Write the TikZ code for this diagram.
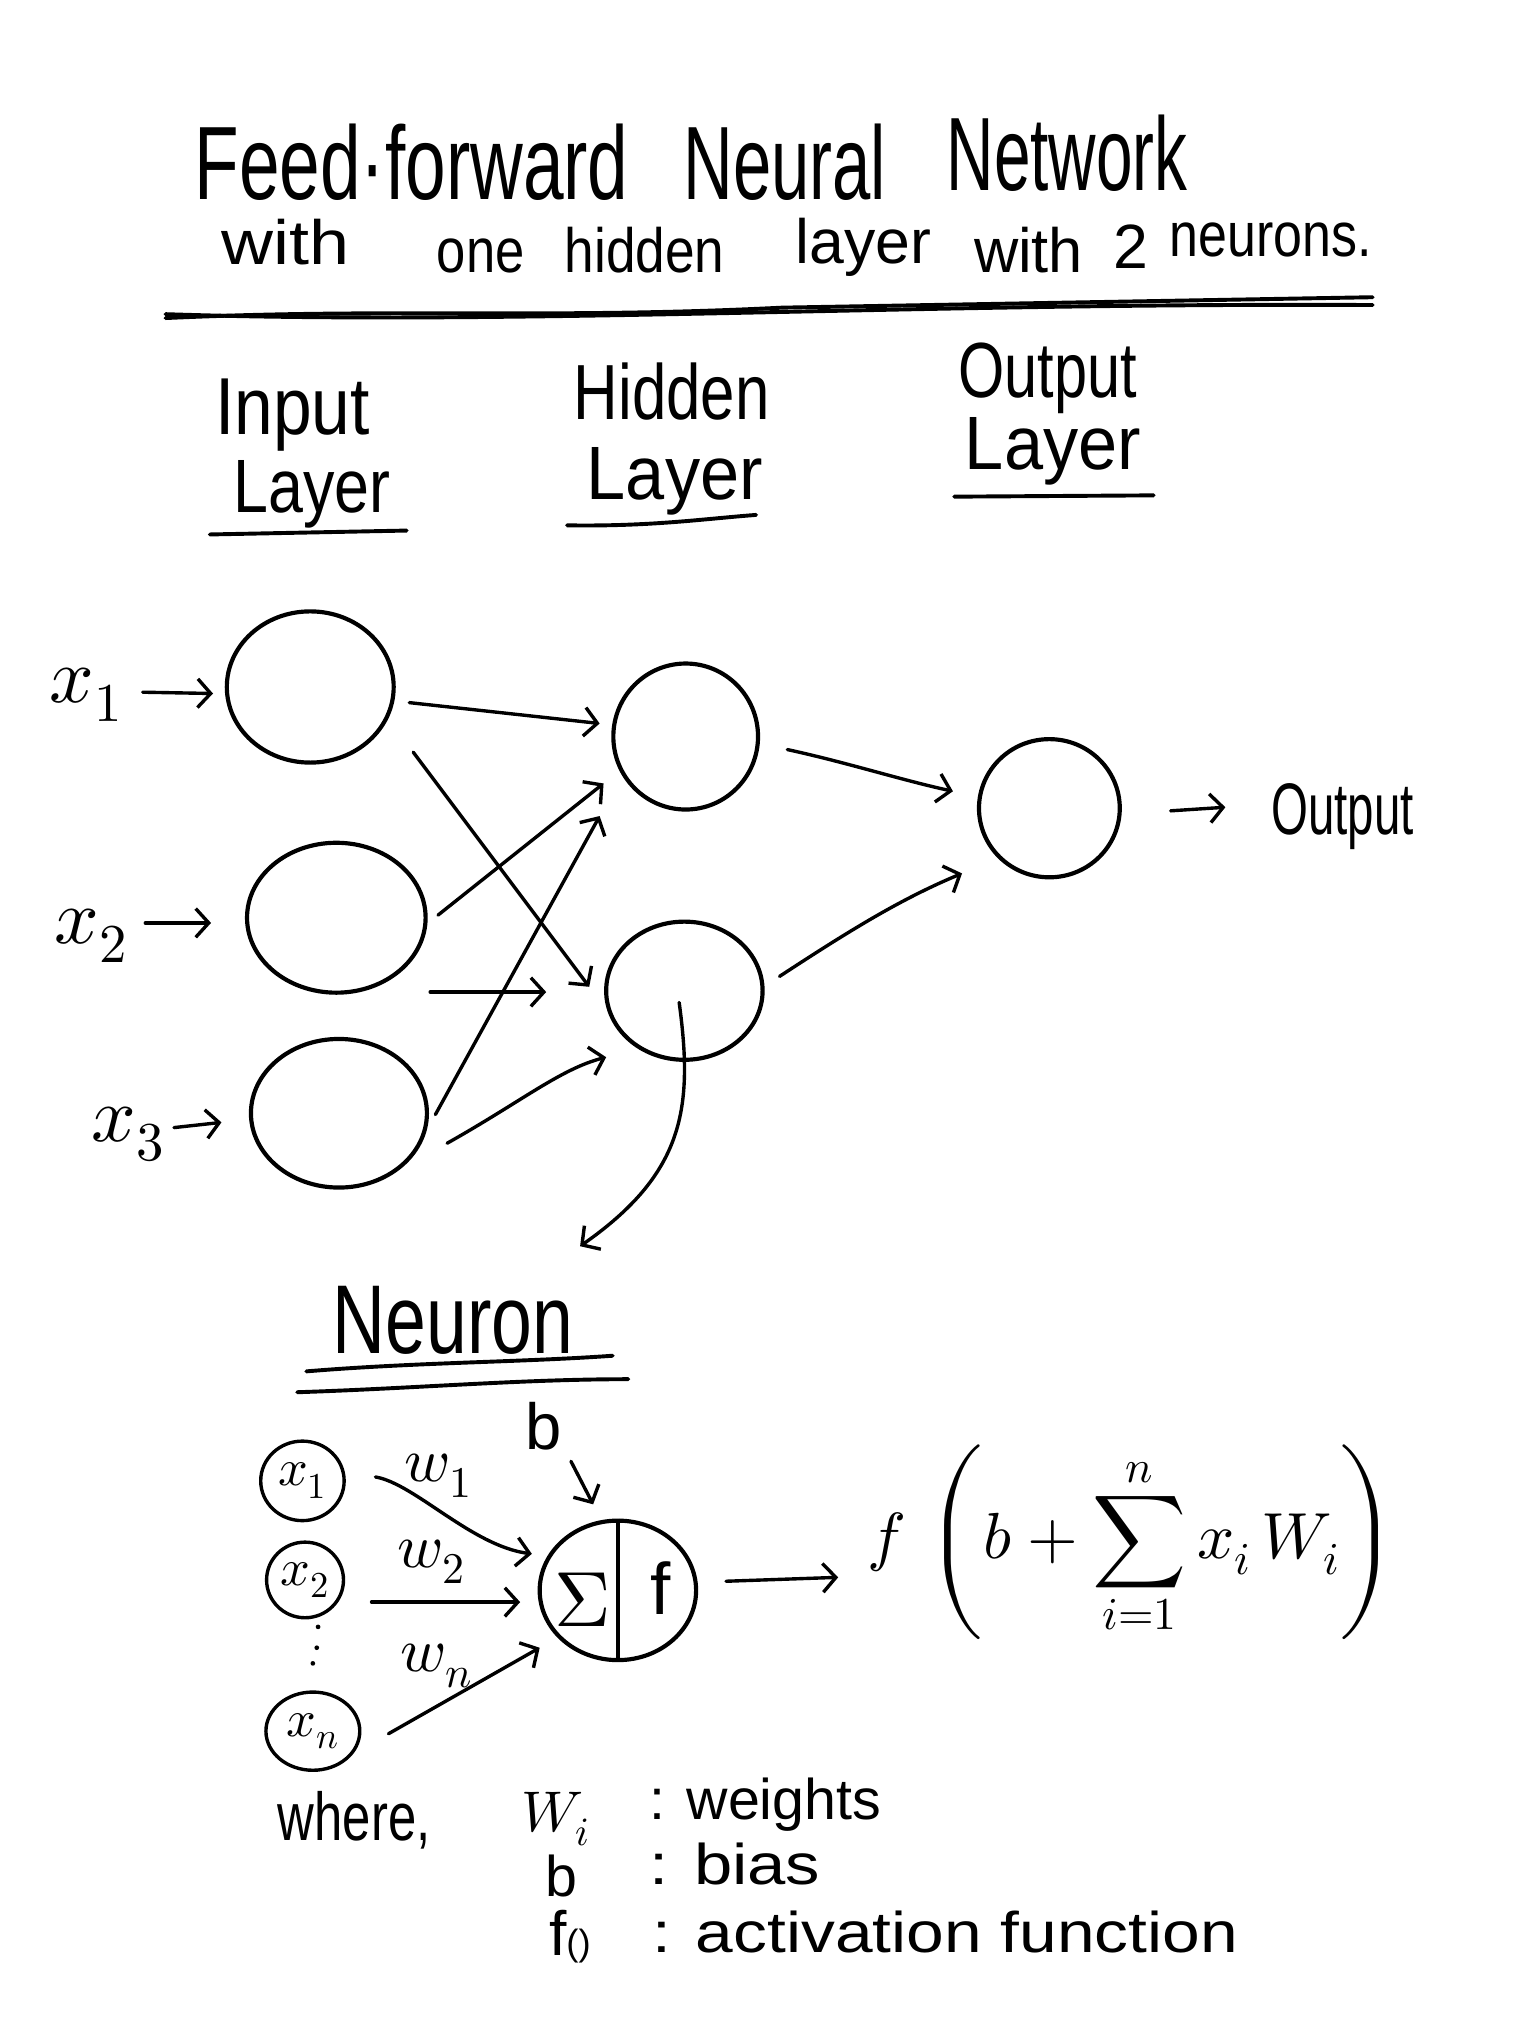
\documentclass[tikz,border=0pt]{standalone}
\usepackage{fontspec}
\usepackage{unicode-math}
\setmainfont{Liberation Sans}
\setmathfont{Latin Modern Math}
\usepackage{graphicx}
\usetikzlibrary{shapes.geometric,arrows.meta,calc}
\newcommand\hsx[2]{\scalebox{#1}[1]{#2}}
\newcommand\fs[1]{\fontsize{#1}{#1}\selectfont}
\begin{document}
\begin{tikzpicture}[x=1pt,y=-1pt,
  neuron/.style={draw, ellipse, line width=3.2pt, inner sep=0pt},
  small/.style={draw, ellipse, line width=2.6pt, inner sep=0pt, font=\fs{40}},
  conn/.style={line width=2.6pt, line cap=round, -{Straight Barb[length=10pt,width=22pt]}},
  txt/.style={inner sep=0pt, anchor=base west},
  uline/.style={line width=3pt, line cap=round}]
\fill[white] (0,0) rectangle (1178,1568);
\useasboundingbox (0,0) rectangle (1178,1568);

% title
\node[txt, font=\fs{80}] (t1) at (149,153) {\hsx{0.70}{Feed·forward}};
\node[txt, font=\fs{80}] (t2) at (524,153) {\hsx{0.66}{Neural}};
\node[txt, font=\fs{80}] (t3) at (726,146) {\hsx{0.63}{Network}};
\node[txt, font=\fs{48}] (s1) at (170,203) {\hsx{1.15}{with}};
\node[txt, font=\fs{48}] (s2) at (335,209) {\hsx{0.84}{one}};
\node[txt, font=\fs{48}] (s3) at (433,209) {\hsx{0.85}{hidden}};
\node[txt, font=\fs{48}] (s4) at (610,202) {\hsx{1.0}{layer}};
\node[txt, font=\fs{48}] (s5) at (747,209) {\hsx{0.98}{with}};
\node[txt, font=\fs{48}] (s6) at (854,206) {2};
\node[txt, font=\fs{48}] (s7) at (897,197) {\hsx{0.83}{neurons.}};
\draw[uline] (127,244) .. controls (300,236) and (420,245) .. (600,236) -- (1053,228);
\draw[uline] (127,241) .. controls (400,250) and (700,232) .. (1053,234);

% layer headings
\node[txt, font=\fs{62}] (inp) at (165,333) {\hsx{0.86}{Input}};
\node[txt, font=\fs{58}] (inl) at (179,393) {\hsx{0.83}{Layer}};
\draw[uline] (161,410) -- (312,407);
\node[txt, font=\fs{60}] (hid) at (440,322) {\hsx{0.79}{Hidden}};
\node[txt, font=\fs{58}] (hil) at (450,383) {\hsx{0.93}{Layer}};
\draw[uline] (435,403) .. controls (500,404) and (540,398) .. (580,395);
\node[txt, font=\fs{60}] (outp) at (735,305) {\hsx{0.76}{Output}};
\node[txt, font=\fs{58}] (outl) at (740,360) {\hsx{0.93}{Layer}};
\draw[uline] (732,381) -- (885,380);

% network
\node[neuron, minimum width=128pt, minimum height=116pt] (i1) at (238,527) {};
\node[neuron, minimum width=137pt, minimum height=115pt] (i2) at (258,704) {};
\node[neuron, minimum width=135pt, minimum height=114pt] (i3) at (260,854) {};
\node[neuron, minimum width=111pt, minimum height=112pt] (h1) at (526,565) {};
\node[neuron, minimum width=120pt, minimum height=106pt] (h2) at (525,760) {};
\node[neuron, minimum width=108pt, minimum height=106pt] (out) at (805,620) {};

\node[font=\fs{60}] (x1) at (66,533) {$x_1$};
\node[font=\fs{60}] (x2) at (70,718) {$x_2$};
\node[font=\fs{60}] (x3) at (98,870) {$x_3$};
\draw[conn] ($(x1.east)+(12,-2)$) -- ($(i1.west)+(-9,5)$);
\draw[conn] ($(x2.east)+(10,-10)$) -- ($(i2.west)+(-26,4)$);
\draw[conn] ($(x3.east)+(4,-5)$) -- ($(i3.west)+(-21,7)$);

\draw[conn] ($(i1)+(76,12)$) -- ($(h1)+(-66,-10)$);
\draw[conn] ($(i1)+(79,50)$) -- ($(h2)+(-73,-3)$);
\draw[conn] ($(i2)+(78,-2)$) -- ($(h1)+(-63,36)$);
\draw[conn] ($(i2)+(72,57)$) -- ($(h2)+(-106,1)$);
\draw[conn] ($(i3)+(74,1)$) -- ($(h1)+(-66,61)$);
\draw[conn] ($(i3)+(83,23)$) .. controls (400,845) and (430,820) .. ($(h2)+(-60,51)$);
\draw[conn] ($(h1)+(78,10)$) .. controls (650,585) and (690,598) .. ($(out)+(-74,-13)$);
\draw[conn] ($(h2)+(73,-11)$) .. controls (650,715) and (690,690) .. ($(out)+(-67,50)$);

\node[txt, font=\fs{56}] (otext) at (975,640) {\hsx{0.65}{Output}};
\draw[conn] ($(out)+(93,2)$) -- ($(otext.west)+(-35,-7)$);

\coordinate (h2tail) at ($(h2)+(-4,9)$);
\coordinate (ntip) at (445,956);
\draw[conn] (h2tail) .. controls (532,850) and (525,900) .. (ntip);

% neuron
\node[txt, font=\fs{75}] (neu) at (255,1038) {\hsx{0.75}{Neuron}};
\draw[uline] (235,1052) .. controls (320,1045) and (400,1045) .. (470,1040);
\draw[uline] (228,1068) .. controls (320,1065) and (400,1058) .. (482,1058);

\node[small, minimum width=64pt, minimum height=61pt] (nx1) at (232,1136) {$x_1$};
\node[small, minimum width=59pt, minimum height=58pt] (nx2) at (234,1212) {$x_2$};
\node[small, minimum width=72pt, minimum height=60pt] (nxn) at (240,1328) {$x_n$};
\fill (244,1248) circle (1.8) (243,1264) circle (1.8) (240,1276) circle (1.8);

\node[neuron, minimum width=120pt, minimum height=107pt] (nn) at (474,1220) {};
\draw[line width=2.6pt] (nn.north) -- (nn.south);
\node[font=\fs{60}] (sig) at (447,1227) {$\Sigma$};
\node[font=\fs{56}] (ff) at (507,1218) {f};

\node[font=\fs{50}] (bl) at (417,1094) {b};
\draw[conn] ($(bl)+(21,27)$) -- ($(nn)+(-19,-66)$);

\node[font=\fs{48}] (w1) at (336,1132) {$w_1$};
\node[font=\fs{48}] (w2) at (331,1198) {$w_2$};
\node[font=\fs{48}] (wn) at (335,1278) {$w_n$};

\draw[conn] ($(nx1)+(56,-3)$) .. controls (318,1138) and (362,1186) .. ($(nn)+(-66,-28)$);
\draw[conn] ($(nx2)+(51,17)$) -- ($(nn)+(-75,9)$);
\draw[conn] ($(nxn)+(58,2)$) -- ($(nn)+(-60,44)$);

\node[font=\fs{50}, anchor=west, inner sep=0pt] (formula) at (665,1183) {$\displaystyle f\,\left(b+\sum_{i=1}^{n} x_i\, W_i\right)$};
\draw[conn] ($(nn)+(83,-7)$) -- ($(formula.west)+(-22,27)$);

% legend
\node[txt, font=\fs{52}] (where) at (213,1412) {\hsx{0.75}{where,}};
\node[txt, font=\fs{44}] (lw) at (400,1405) {$W_i$};
\node[txt, font=\fs{44}] (lwt) at (498,1396) {: weights};
\node[txt, font=\fs{44}] (lb) at (418,1455) {b};
\node[txt, font=\fs{44}] (lbt) at (498,1446) {\hsx{1.2}{: bias}};
\node[txt, font=\fs{48}] (lf) at (421,1500) {f{\fs{28}()}};
\node[txt, font=\fs{44}] (lft) at (500,1498) {\hsx{1.18}{: activation function}};
\end{tikzpicture}
\end{document}
